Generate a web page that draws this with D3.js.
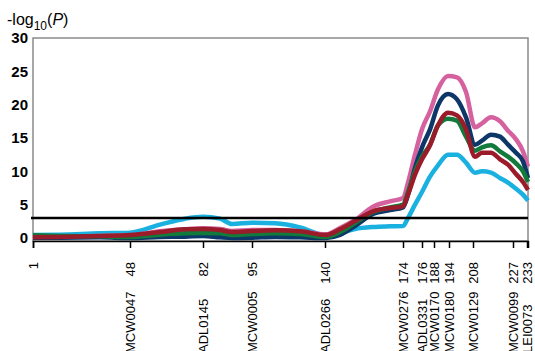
<!DOCTYPE html>
<html>
<head>
<meta charset="utf-8">
<script src="https://cdn.jsdelivr.net/npm/d3@7"></script>
<style>
  body { margin: 0; background: #fff; }
  svg { display: block; font-family: "Liberation Sans", Arial, sans-serif; }
</style>
</head>
<body>
<div id="chart"></div>
<script>
// marker positions along the map (plot units) and their labels
const markerPos  = [0, 48.5, 85, 109.5, 146, 185, 194.5, 200.5, 208, 220, 240, 247];
const markerNum  = ["1", "48", "82", "95", "140", "174", "176", "188", "194", "208", "227", "233"];
const markerName = ["", "MCW0047", "ADL0145", "MCW0005", "ADL0266", "MCW0276", "ADL0331",
                    "MCW0170", "MCW0180", "MCW0129", "MCW0099", "LEI0073"];

// positions where each curve was sampled
const samplePos = [0, 13.5, 33.5, 48.5, 63.5, 76, 85, 93.5, 99.5, 109.5, 121, 133.5, 146.5,
                   153.5, 161, 170, 178.5, 185, 187.5, 191, 194.5, 198.5, 202.5, 207.5, 212,
                   216.5, 221, 224.5, 229, 233.5, 237.5, 241.5, 245, 247.5];

const cyanVals  = [0.45, 0.5, 0.7, 0.8, 2.0, 2.9, 3.2, 2.9, 2.1, 2.3, 2.2, 1.6, 0.4,
                   0.75, 1.35, 1.65, 1.75, 1.8, 3.0, 5.0, 6.9, 9.2, 10.9, 12.5, 12.5,
                   11.3, 9.8, 10.0, 9.8, 9.0, 8.3, 7.4, 6.5, 5.6];
const pinkVals  = [0.15, 0.2, 0.3, 0.4, 1.0, 1.3, 1.45, 1.35, 1.05, 1.2, 1.2, 1.0, 0.55,
                   1.5, 2.7, 4.7, 5.5, 6.0, 8.3, 12.5, 16.3, 19.0, 22.3, 24.3, 24.1,
                   21.9, 16.6, 17.2, 18.1, 17.5, 16.1, 14.8, 13.0, 10.7];
const navyVals  = [0.05, 0.05, 0.1, 0.0, 0.15, 0.2, 0.3, 0.1, 0.0, 0.05, 0.15, 0.1, 0.0,
                   0.45, 1.8, 3.6, 4.2, 4.6, 6.5, 10.5, 13.6, 16.3, 19.9, 21.6, 20.8,
                   18.1, 14.0, 14.6, 15.5, 15.2, 14.0, 12.8, 11.5, 9.0];
const greenVals = [0.4, 0.3, 0.25, 0.15, 0.5, 0.7, 0.75, 0.7, 0.45, 0.6, 0.7, 0.6, 0.15,
                   0.9, 2.25, 3.9, 4.6, 5.0, 6.9, 10.0, 12.2, 14.0, 16.9, 17.9, 17.6,
                   15.2, 13.1, 13.6, 13.9, 13.0, 12.2, 11.2, 10.0, 8.4];
const redVals   = [0.1, 0.15, 0.3, 0.45, 0.9, 1.3, 1.35, 1.2, 0.9, 1.05, 1.15, 1.0, 0.45,
                   1.3, 2.55, 4.0, 4.5, 4.75, 6.5, 9.5, 11.8, 13.9, 16.9, 18.8, 18.4,
                   16.3, 12.2, 12.8, 12.8, 11.8, 11.0, 9.6, 8.4, 7.2];

const threshold = 3;
const yTicks = [0, 5, 10, 15, 20, 25, 30];

// drawing order: last one ends up on top
const series = [
    {name: "cyan",  values: cyanVals,  color: "#1ab0e0"},
    {name: "pink",  values: pinkVals,  color: "#d5629f"},
    {name: "navy",  values: navyVals,  color: "#0d3768"},
    {name: "green", values: greenVals, color: "#127a3a"},
    {name: "red",   values: redVals,   color: "#9a1b2a"}
];

const W = 535, H = 351;
const svg = d3.select("#chart").append("svg")
    .attr("width", W)
    .attr("height", H);

const x = d3.scaleLinear().domain([0, 247.5]).range([33, 528]);
const y = d3.scaleLinear().domain([-0.45, 30]).range([241, 38]);

// plot frame
svg.append("rect")
    .attr("x", x(0))
    .attr("y", y(30))
    .attr("width", x(247.5) - x(0))
    .attr("height", y(-0.45) - y(30))
    .attr("fill", "none")
    .attr("stroke", "#8a8a8a")
    .attr("stroke-width", 1.5);

// y axis labels
svg.append("g")
    .attr("transform", `translate(${x(0)},0)`)
    .call(d3.axisLeft(y).tickValues(yTicks).tickSize(0).tickPadding(5))
    .call(g => g.select(".domain").remove())
    .call(g => g.selectAll("text")
        .attr("fill", "#000")
        .style("font-size", "15px")
        .style("font-weight", "bold")
        .style("font-family", "'Liberation Sans', Arial, sans-serif"));

// y title
const title = svg.append("text")
    .attr("x", 7)
    .attr("y", 25)
    .style("font-size", "16px")
    .attr("fill", "#000");
title.append("tspan").text("-log");
title.append("tspan").attr("dy", 5).style("font-size", "12px").text("10");
title.append("tspan").attr("dy", -5).text("(");
title.append("tspan").style("font-style", "italic").text("P");
title.append("tspan").text(")");

// x axis with marker ticks
const xAxis = svg.append("g")
    .attr("transform", `translate(0,${y(-0.45)})`)
    .call(d3.axisBottom(x).tickValues(markerPos).tickSize(7).tickFormat(""));
xAxis.select(".domain").attr("stroke", "#000").attr("stroke-width", 1.5);
xAxis.selectAll(".tick line").attr("stroke", "#000").attr("stroke-width", 1.5);

// marker numbers
svg.selectAll(".marker-num")
    .data(markerPos)
    .enter()
    .append("text")
    .attr("class", "marker-num")
    .attr("transform", d => `translate(${x(d)},262) rotate(-90)`)
    .attr("dy", "0.35em")
    .attr("text-anchor", "end")
    .style("font-size", "13px")
    .attr("fill", "#000")
    .text((d, i) => markerNum[i]);

// marker names
svg.selectAll(".marker-name")
    .data(markerPos)
    .enter()
    .append("text")
    .attr("class", "marker-name")
    .attr("transform", d => `translate(${x(d)},353) rotate(-90)`)
    .attr("dy", "0.35em")
    .attr("text-anchor", "start")
    .style("font-size", "13px")
    .attr("fill", "#000")
    .text((d, i) => markerName[i]);

// curves
const line = d3.line()
    .x((d, i) => x(samplePos[i]))
    .y(d => y(d))
    .curve(d3.curveMonotoneX);

svg.selectAll(".curve")
    .data(series)
    .enter()
    .append("path")
    .attr("class", "curve")
    .attr("d", d => line(d.values))
    .attr("fill", "none")
    .attr("stroke", d => d.color)
    .attr("stroke-width", 4.5)
    .attr("stroke-linejoin", "round");

// significance threshold
svg.append("line")
    .attr("x1", x(0) - 2)
    .attr("x2", x(247.5))
    .attr("y1", y(threshold))
    .attr("y2", y(threshold))
    .attr("stroke", "#000")
    .attr("stroke-width", 2.5);
</script>
</body>
</html>
